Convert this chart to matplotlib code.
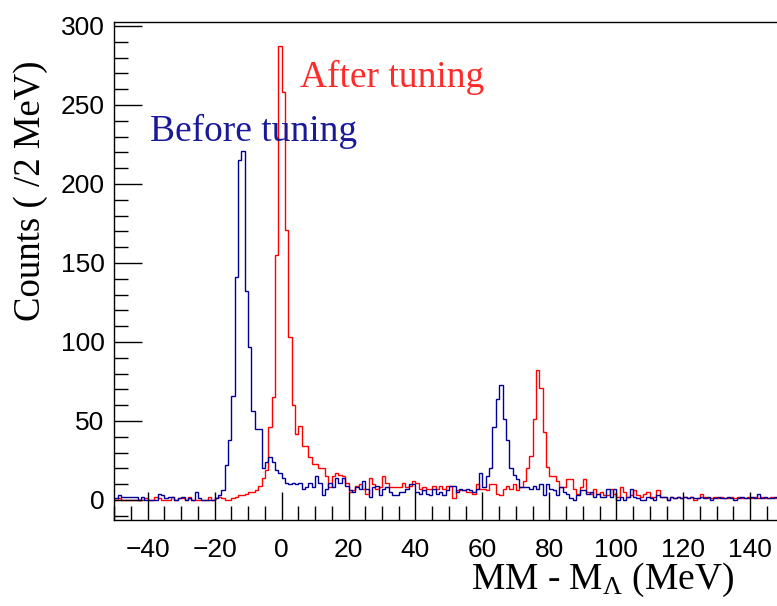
import numpy as np
import matplotlib
matplotlib.use("Agg")
import matplotlib.pyplot as plt
from matplotlib.ticker import MultipleLocator

plt.rcParams["mathtext.fontset"] = "custom"
plt.rcParams["mathtext.rm"] = "Liberation Serif"
plt.rcParams["mathtext.it"] = "Liberation Serif:italic"

# bin edges: 1 MeV bins from -50 to 150
bin_lo = -50
bin_hi = 150

# Before tuning (blue), bins -50 .. 149
before = [
    1, 3, 2, 2, 2, 2, 2, 0, 2, 0,          # -50..-41
    0, 0, 0, 4, 3, 1, 2, 2, 0, 1,          # -40..-31
    2, 0, 1, 0, 5, 1, 0, 0, 0, 0,          # -30..-21
    1, 3, 6, 22, 38, 66, 141, 215, 221, 132,  # -20..-11
    97, 56, 45, 45, 20, 24, 27, 24, 19, 17,   # -10..-1
    14, 11, 10, 11, 10, 11, 7, 8, 11, 8,      # 0..9
    15, 11, 3, 7, 11, 8, 14, 11, 14, 9,       # 10..19
    6, 5, 8, 7, 12, 7, 2, 8, 9, 3,            # 20..29
    7, 8, 5, 3, 3, 5, 5, 7, 10, 10,           # 30..39
    5, 4, 6, 4, 3, 7, 4, 5, 3, 6,             # 40..49
    9, 9, 5, 7, 6, 7, 6, 5, 7, 17,            # 50..59
    8, 15, 20, 46, 64, 73, 51, 38, 20, 16,    # 60..69
    13, 8, 8, 8, 7, 9, 7, 10, 3, 10,          # 70..79
    7, 6, 3, 8, 5, 4, 1, 0, 3, 6,             # 80..89
    6, 4, 5, 2, 4, 2, 2, 7, 2, 7,             # 90..99
    0, 2, 0, 2, 7, 2, 1, 0, 0, 2,             # 100..109
    1, 0, 3, 2, 2, 0, 2, 1, 2, 1,             # 110..119
    2, 1, 2, 1, 1, 2, 1, 2, 0, 1,             # 120..129
    2, 1, 1, 2, 1, 0, 1, 2, 1, 1,             # 130..139
    2, 1, 4, 1, 2, 1, 1, 2, 1, 1,             # 140..149
]

# After tuning (red), bins -50 .. 149
after = [
    0, 1, 0, 0, 0, 0, 0, 0, 0, 1,             # -50..-41
    0, 0, 2, 1, 0, 0, 0, 2, 0, 1,             # -40..-31
    1, 0, 2, 0, 0, 0, 0, 0, 2, 0,             # -30..-21
    1, 2, 1, 0, 0, 1, 2, 3, 3, 4,             # -20..-11
    5, 5, 6, 9, 14, 19, 46, 65, 155, 287,     # -10..-1
    258, 171, 103, 60, 42, 47, 34, 34, 27, 23,  # 0..9
    23, 20, 20, 15, 8, 15, 17, 16, 15, 11,    # 10..19
    5, 6, 9, 10, 7, 4, 14, 10, 7, 8,          # 20..29
    15, 11, 8, 8, 8, 8, 11, 8, 9, 12,         # 30..39
    11, 7, 8, 7, 7, 9, 7, 9, 7, 9,            # 40..49
    9, 1, 6, 6, 6, 5, 5, 4, 10, 7,            # 50..59
    7, 6, 10, 10, 4, 3, 7, 9, 7, 10,          # 60..69
    6, 8, 12, 20, 28, 51, 82, 71, 43, 21,     # 70..79
    15, 15, 12, 8, 8, 13, 13, 7, 4, 8,        # 80..89
    13, 5, 4, 7, 4, 5, 3, 3, 7, 4,            # 90..99
    2, 8, 5, 2, 3, 6, 3, 2, 4, 5,             # 100..109
    2, 2, 6, 2, 2, 0, 2, 1, 2, 1,             # 110..119
    2, 1, 2, 0, 1, 4, 2, 1, 1, 2,             # 120..129
    1, 2, 1, 1, 2, 1, 2, 1, 1, 2,             # 130..139
    1, 2, 1, 2, 1, 1, 2, 1, 2, 1,             # 140..149
]

edges = np.arange(bin_lo, bin_hi + 1, 1)

blue = "#000099"
red = "#ff0000"

fig = plt.figure(figsize=(7.77, 6.06), dpi=100)
ax = fig.add_axes([0.147, 0.1419, 0.853, 0.8218])

ax.stairs(after, edges, color=red, lw=1.0)
ax.stairs(before, edges, color=blue, lw=1.0)

ax.set_xlim(-50, 148)
ax.set_ylim(-12.7, 302.5)

ax.xaxis.set_major_locator(MultipleLocator(20))
ax.xaxis.set_minor_locator(MultipleLocator(5))
ax.yaxis.set_major_locator(MultipleLocator(50))
ax.yaxis.set_minor_locator(MultipleLocator(10))

ax.tick_params(axis="both", which="both", direction="in", top=False, right=False,
               labelsize=19, width=1.0, colors="black")
ax.tick_params(axis="both", which="major", length=20)
ax.tick_params(axis="both", which="minor", length=10)
ax.tick_params(axis="y", which="major", pad=7)
ax.tick_params(axis="x", which="major", pad=13)
for lab in ax.get_xticklabels() + ax.get_yticklabels():
    lab.set_family(["Liberation Sans", "DejaVu Sans"])

ax.spines["right"].set_visible(False)
for s in ["left", "bottom", "top"]:
    ax.spines[s].set_linewidth(1.0)

serif = ["Liberation Serif", "DejaVu Serif"]
fig.text(0.040, 0.685, "Counts ( /2 MeV)", rotation=90, ha="center", va="center",
         fontsize=26.5, family=serif)
fig.text(0.945, 0.012, r"MM - M$_{\Lambda}$ (MeV)", ha="right", va="bottom",
         fontsize=27, family=serif)

ax.text(300 / 777, 1 - 77 / 606, "After tuning", transform=fig.transFigure,
        color="#ff2a2a", fontsize=27, family=serif, ha="left", va="center")
ax.text(150 / 777, 1 - 131 / 606, "Before tuning", transform=fig.transFigure,
        color="#1a1a99", fontsize=27, family=serif, ha="left", va="center")

fig.savefig("out.png", dpi=100)
